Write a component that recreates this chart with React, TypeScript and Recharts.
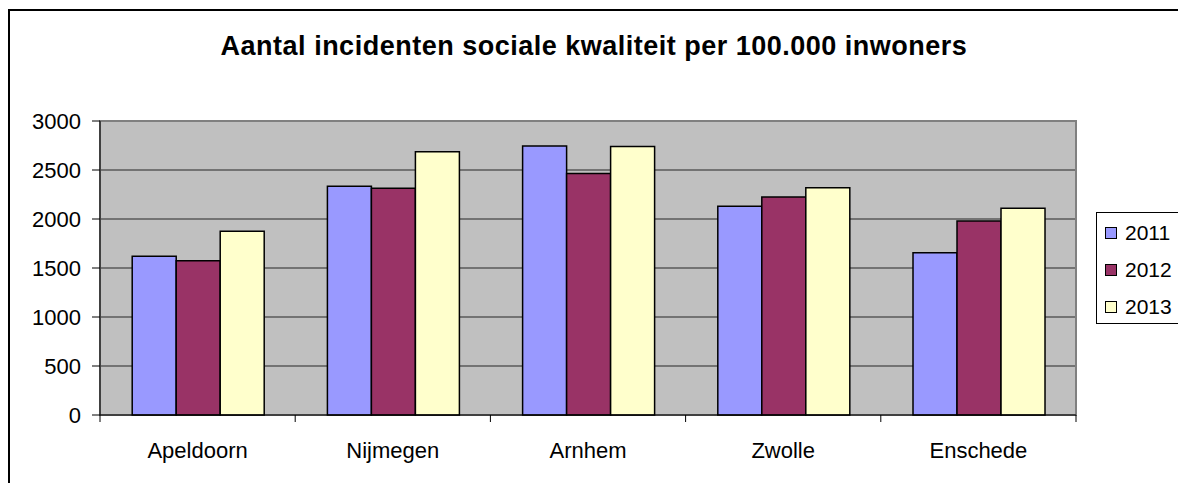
import React from 'react';
import {
  BarChart,
  Bar,
  XAxis,
  YAxis,
  CartesianGrid,
  ReferenceArea,
} from 'recharts';

const cities = ['Apeldoorn', 'Nijmegen', 'Arnhem', 'Zwolle', 'Enschede'];
const values2011 = [1620, 2335, 2745, 2130, 1655];
const values2012 = [1575, 2315, 2465, 2225, 1980];
const values2013 = [1875, 2685, 2740, 2320, 2110];
const yTicks = [0, 500, 1000, 1500, 2000, 2500, 3000];

const series = [
  { key: 'y2011', name: '2011', color: '#9999FF' },
  { key: 'y2012', name: '2012', color: '#993366' },
  { key: 'y2013', name: '2013', color: '#FFFFCC' },
];

const chartData = cities.map((city, i) => ({
  city,
  y2011: values2011[i],
  y2012: values2012[i],
  y2013: values2013[i],
}));

const FONT = '"Liberation Sans", Arial, sans-serif';
const X_TICK_SIZE = 7;
const X_TICK_MARGIN = 20;

// category labels plus tick marks on the category boundaries (Excel style)
const CityTick = (props: any) => {
  const { x, y, payload, index, visibleTicksCount } = props;
  const half = payload.offset || 0;
  const top = y - X_TICK_MARGIN - X_TICK_SIZE;
  const isLast = index === visibleTicksCount - 1;
  return (
    <g>
      <line x1={x - half} x2={x - half} y1={top} y2={top + X_TICK_SIZE} stroke="#000" />
      {isLast && (
        <line x1={x + half} x2={x + half} y1={top} y2={top + X_TICK_SIZE} stroke="#000" />
      )}
      <text
        x={x}
        y={y}
        dy="0.71em"
        textAnchor="middle"
        fill="#000"
        fontSize={22}
        fontFamily={FONT}
      >
        {payload.value}
      </text>
    </g>
  );
};

export default function App() {
  return (
    <div
      style={{
        position: 'fixed',
        left: 0,
        top: 0,
        width: 1178,
        height: 483,
        overflow: 'hidden',
        background: '#fff',
      }}
    >
      <div
        style={{
          position: 'absolute',
          left: 8,
          top: 9,
          width: 1200,
          height: 500,
          border: '2px solid #000',
        }}
      />
      <div
        style={{
          position: 'absolute',
          left: 0,
          width: 1188,
          top: 31,
          textAlign: 'center',
          fontFamily: FONT,
          fontWeight: 'bold',
          fontSize: 27,
          letterSpacing: 0.5,
          whiteSpace: 'nowrap',
        }}
      >
        Aantal incidenten sociale kwaliteit per 100.000 inwoners
      </div>
      <div style={{ position: 'absolute', left: 0, top: 0 }}>
        <BarChart
          width={1178}
          height={483}
          data={chartData}
          margin={{ top: 121, right: 102, left: 0, bottom: 27 }}
          barCategoryGap="16.5%"
          barGap={0}
        >
          <CartesianGrid vertical={false} fill="#C0C0C0" stroke="#000" strokeOpacity={0.8} />
          <ReferenceArea y1={0} y2={3000} fill="none" stroke="#808080" strokeWidth={2} />
          <XAxis
            dataKey="city"
            tickLine={false}
            axisLine={{ stroke: '#000' }}
            tick={<CityTick />}
            tickSize={X_TICK_SIZE}
            tickMargin={X_TICK_MARGIN}
            interval={0}
            height={41}
          />
          <YAxis
            width={100}
            domain={[0, 3000]}
            ticks={yTicks}
            interval={0}
            tickSize={8}
            tickMargin={11}
            axisLine={{ stroke: '#000' }}
            tickLine={{ stroke: '#000' }}
            tick={{ fill: '#000', fontSize: 22, fontFamily: FONT }}
          />
          {series.map((s) => (
            <Bar
              key={s.key}
              dataKey={s.key}
              name={s.name}
              fill={s.color}
              stroke="#000"
              strokeWidth={1.5}
              isAnimationActive={false}
            />
          ))}
        </BarChart>
      </div>
      <div
        style={{
          position: 'absolute',
          left: 1096,
          top: 212,
          width: 120,
          height: 112,
          border: '1px solid #000',
          background: '#fff',
          paddingTop: 1,
          boxSizing: 'border-box',
          fontFamily: FONT,
          fontSize: 21,
        }}
      >
        {series.map((s) => (
          <div key={s.key} style={{ display: 'flex', alignItems: 'center', height: 37 }}>
            <span
              style={{
                display: 'inline-block',
                width: 10,
                height: 10,
                marginLeft: 8,
                marginRight: 8,
                border: '1px solid #000',
                background: s.color,
              }}
            />
            <span>{s.name}</span>
          </div>
        ))}
      </div>
    </div>
  );
}
